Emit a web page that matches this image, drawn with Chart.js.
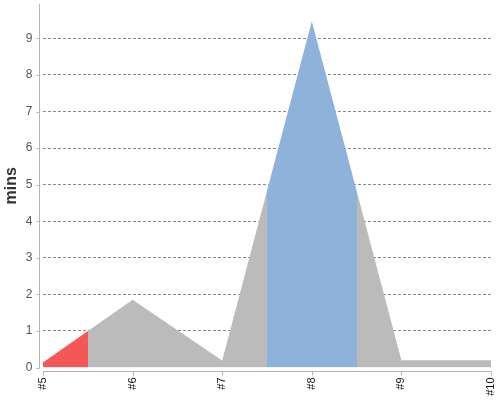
<!DOCTYPE html>
<html>
<head>
<meta charset="utf-8">
<script src="https://cdn.jsdelivr.net/npm/chart.js@4"></script>
<style>
  html, body { margin: 0; padding: 0; background: #fff; }
  #wrap { width: 500px; height: 400px; }
</style>
</head>
<body>
<div id="wrap"><canvas id="chart"></canvas></div>
<script>
// Data
const categories = ['#5', '#6', '#7', '#8', '#9', '#10'];
const minutes = [0.14, 1.85, 0.19, 9.47, 0.2, 0.2];
const yTicks = [0, 1, 2, 3, 4, 5, 6, 7, 8, 9];

// categories whose half-step band gets its own colour
const GRAY = '#bbbbbb';
const bandColors = { '#5': '#f45757', '#8': '#8fb2da' };

// horizontal gradient with hard stops, one band per category
function bandFill(context) {
    const chart = context.chart;
    const area = chart.chartArea;
    const x = chart.scales.x;
    if (!area || !x) return GRAY;
    const w = area.right - area.left;
    const g = chart.ctx.createLinearGradient(area.left, 0, area.right, 0);
    const off = v => Math.min(1, Math.max(0, (x.getPixelForValue(v) - area.left) / w));
    categories.forEach((c, i) => {
        const col = bandColors[c] || GRAY;
        g.addColorStop(off(i - 0.5), col);
        g.addColorStop(off(i + 0.5), col);
    });
    return g;
}

// axis lines drawn a few pixels off the plot, like the original
const offsetAxes = {
    id: 'offsetAxes',
    afterDraw(chart) {
        const { ctx, chartArea: a, scales } = chart;
        const y0 = scales.y.getPixelForValue(0);
        const ax = Math.round(a.left - 4) + 0.5;
        const ay = Math.round(y0 + 3) + 0.5;
        ctx.save();
        ctx.strokeStyle = '#b4b4b4';
        ctx.lineWidth = 1;
        ctx.beginPath();
        ctx.moveTo(ax, a.top);
        ctx.lineTo(ax, y0 + 1);
        scales.y.ticks.forEach(t => {
            const py = Math.round(scales.y.getPixelForValue(t.value)) + 0.5;
            ctx.moveTo(ax - 3, py);
            ctx.lineTo(ax, py);
        });
        ctx.moveTo(a.left, ay);
        ctx.lineTo(a.right, ay);
        categories.forEach((c, i) => {
            const px = Math.round(scales.x.getPixelForValue(i)) + 0.5;
            ctx.moveTo(px, ay);
            ctx.lineTo(px, ay + 4);
        });
        ctx.stroke();
        ctx.restore();
    }
};

new Chart(document.getElementById('chart'), {
    type: 'line',
    data: {
        labels: categories,
        datasets: [{
            label: 'mins',
            data: minutes,
            fill: 'origin',
            backgroundColor: bandFill,
            borderWidth: 0,
            borderColor: 'rgba(0,0,0,0)',
            pointRadius: 0,
            tension: 0
        }]
    },
    options: {
        responsive: true,
        maintainAspectRatio: false,
        animation: false,
        layout: {
            padding: { top: 4, right: 9, left: 0, bottom: 0 }
        },
        plugins: {
            legend: { display: false },
            tooltip: { enabled: false }
        },
        scales: {
            x: {
                type: 'category',
                offset: false,
                border: { display: false },
                grid: { display: false, drawTicks: false },
                ticks: {
                    autoSkip: false,
                    minRotation: 90,
                    maxRotation: 90,
                    padding: 10,
                    color: '#111',
                    font: { family: 'Liberation Sans, Arial, sans-serif', size: 11 }
                },
                afterFit: s => {
                    s.height = 32.5;
                    s.paddingLeft = 0;
                    s.paddingRight = 0;
                }
            },
            y: {
                min: 0,
                max: 9.94,
                border: { display: false, dash: [3, 2] },
                afterBuildTicks: s => { s.ticks = yTicks.map(v => ({ value: v })); },
                grid: {
                    drawTicks: false,
                    color: c => (c.tick && c.tick.value === 0) ? 'rgba(0,0,0,0)' : '#8a8a8a',
                    lineWidth: 1
                },
                ticks: {
                    padding: 10.5,
                    color: '#555',
                    font: { family: 'Liberation Sans, Arial, sans-serif', size: 12 }
                },
                title: {
                    display: true,
                    text: 'mins',
                    color: '#333',
                    padding: { top: 2, bottom: 0 },
                    font: { family: 'Liberation Sans Narrow, Arial Narrow, sans-serif', size: 16, weight: 'bold' }
                },
                afterFit: s => {
                    s.width = 43;
                    s.paddingTop = 0;
                    s.paddingBottom = 0;
                }
            }
        }
    },
    plugins: [offsetAxes]
});
</script>
</body>
</html>
